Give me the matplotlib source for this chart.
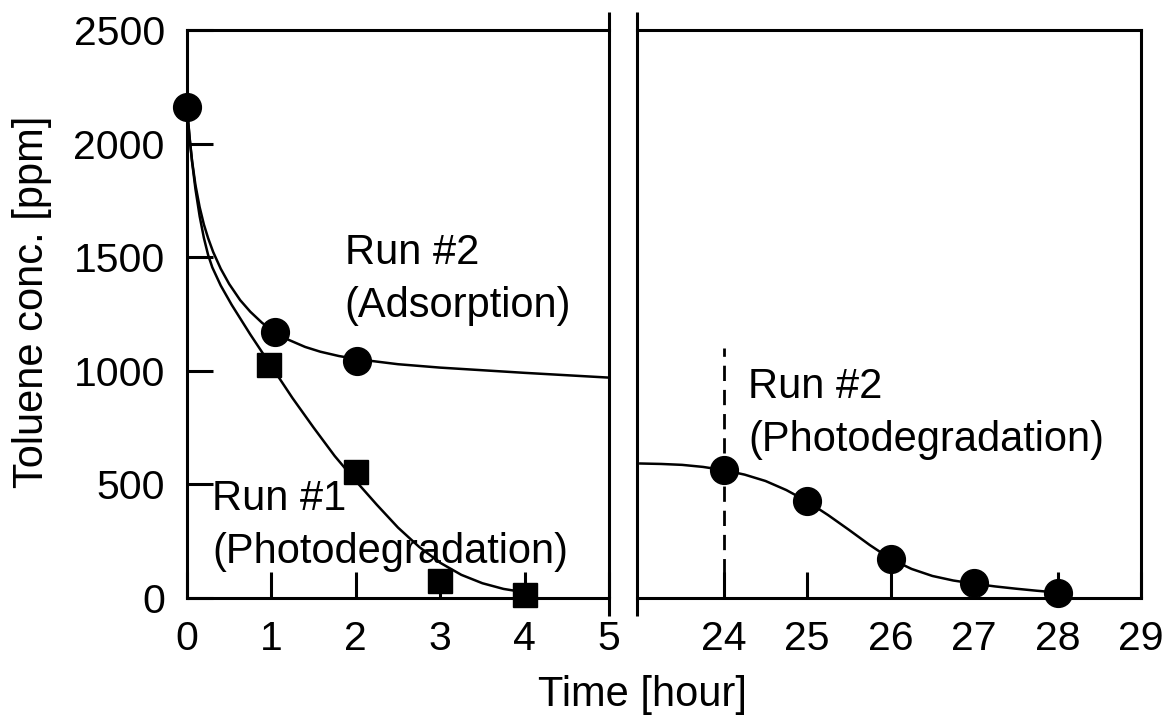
import numpy as np
import matplotlib
matplotlib.use("Agg")
import matplotlib.pyplot as plt

plt.rcParams["font.family"] = ["Liberation Sans", "DejaVu Sans"]

# ---- measured points ----
run2_ads_t = [0, 1.04, 2.02]
run2_ads_c = [2160, 1170, 1042]
run1_t = [0.97, 2.0, 3.0, 4.0]
run1_c = [1025, 555, 75, 15]
run2_pd_t = [24, 25, 26, 27, 28]
run2_pd_c = [565, 425, 170, 64, 22]

# ---- fitted curves ----
fit_ads_t = [0, 0.03, 0.06, 0.1, 0.15, 0.2, 0.25, 0.31, 0.4, 0.5, 0.63, 0.75,
             0.89, 1.04, 1.2, 1.4, 1.58, 1.8, 2.02, 2.5, 3, 4, 5]
fit_ads_c = [2160, 2026, 1924, 1818, 1720, 1644, 1584, 1523, 1449, 1382, 1311, 1260,
             1211, 1170, 1137, 1105, 1084, 1065, 1051, 1029, 1014, 991, 970]
fit_run1_t = [0, 0.03, 0.06, 0.1, 0.15, 0.2, 0.25, 0.3, 0.4, 0.53, 0.75, 1.0, 1.25,
              1.5, 1.75, 2.0, 2.25, 2.5, 2.75, 3.0, 3.25, 3.5, 3.75, 4.0]
fit_run1_c = [2160, 2030, 1920, 1800, 1680, 1585, 1510, 1455, 1375, 1290, 1160, 1020,
              880, 750, 625, 515, 410, 310, 225, 155, 102, 65, 40, 25]
fit_pd_t = [23, 23.25, 23.5, 23.75, 24, 24.25, 24.5, 24.75, 25, 25.25, 25.5, 25.75,
            26, 26.25, 26.5, 26.75, 27, 27.25, 27.5, 27.75, 28]
fit_pd_c = [592, 590, 586, 577, 563, 543, 515, 475, 425, 365, 300, 233,
            172, 128, 97, 77, 63, 51, 41, 32, 24]

dash_t = 24
dash_top = 1100

xticks_left = [0, 1, 2, 3, 4, 5]
xticks_right = [24, 25, 26, 27, 28, 29]
yticks = [0, 500, 1000, 1500, 2000, 2500]

fs = 30
lw_ax = 2.2
lw_line = 1.8

fig = plt.figure(figsize=(11.66, 7.17), dpi=100)
W, H = 1166, 717
bot, top = 598, 30
axL = fig.add_axes([187 / W, 1 - bot / H, 422 / W, (bot - top) / H])
axR = fig.add_axes([637 / W, 1 - bot / H, 504 / W, (bot - top) / H])

for ax in (axL, axR):
    ax.set_ylim(0, 2500)
    for s in ax.spines.values():
        s.set_linewidth(lw_ax)
    ax.tick_params(direction="in", length=19, width=lw_ax, labelsize=29.5, pad=16)

axL.set_xlim(0, 5)
axL.set_xticks(xticks_left)
axL.set_yticks(yticks)

axR.set_xlim(22.96, 29)
axR.set_xticks(xticks_right)
axR.set_yticks([])

# inner spines of the broken axis run past the frame
axL.spines["right"].set_visible(False)
axR.spines["left"].set_visible(False)
axL.plot([1, 1], [-0.032, 1.032], transform=axL.transAxes, color="black",
         lw=lw_ax, clip_on=False, solid_capstyle="butt")
axR.plot([0, 0], [-0.032, 1.032], transform=axR.transAxes, color="black",
         lw=lw_ax, clip_on=False, solid_capstyle="butt")

# curves
axL.plot(fit_ads_t, fit_ads_c, color="black", lw=lw_line)
axL.plot(fit_run1_t, fit_run1_c, color="black", lw=lw_line)
axR.plot(fit_pd_t, fit_pd_c, color="black", lw=lw_line)
axR.plot([dash_t, dash_t], [0, dash_top], color="black", lw=2.0,
         dashes=(5.5, 3.2))

# markers
axL.plot(run2_ads_t, run2_ads_c, "o", color="black", ms=20, clip_on=False, zorder=5)
axL.plot(run1_t, run1_c, "s", color="black", ms=17.5, clip_on=False, zorder=5)
axR.plot(run2_pd_t, run2_pd_c, "o", color="black", ms=20, clip_on=False, zorder=5)

# annotations (va="baseline" pins the last line's baseline)
axL.text(1.87, 1237, "Run #2\n(Adsorption)", fontsize=fs, va="baseline",
         ha="left", linespacing=1.41)
axL.text(0.30, 154, "Run #1\n(Photodegradation)", fontsize=fs, va="baseline",
         ha="left", linespacing=1.41)
axR.text(24.29, 647, "Run #2\n(Photodegradation)", fontsize=fs, va="baseline",
         ha="left", linespacing=1.41)

fig.text(32 / W, 1 - 302 / H, "Toluene conc. [ppm]", rotation=90, fontsize=fs,
         ha="center", va="center")
fig.text(642 / W, 1 - 695 / H, "Time [hour]", fontsize=fs, ha="center", va="center")

fig.savefig("out.png", dpi=100)
